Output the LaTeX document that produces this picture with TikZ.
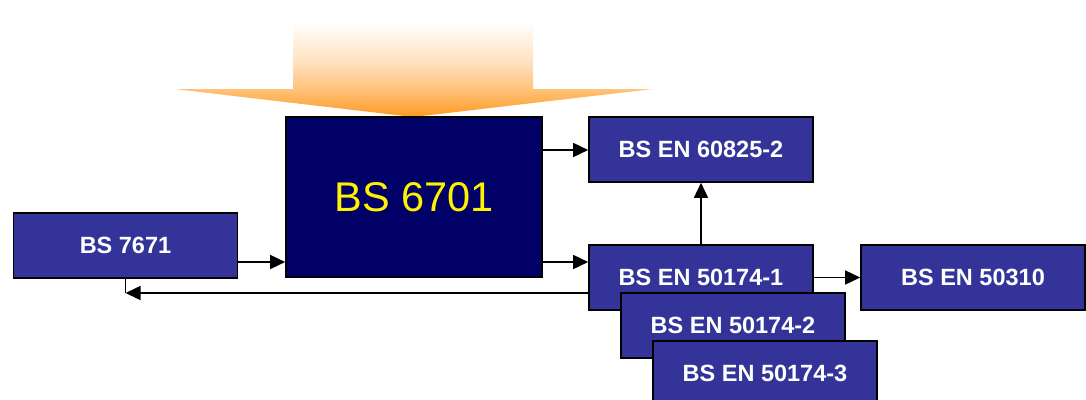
\documentclass[tikz,border=0pt]{standalone}
\usepackage{fontspec}
\setmainfont{Liberation Sans}
\usetikzlibrary{arrows.meta,calc}
\definecolor{boxblue}{HTML}{333399}
\definecolor{navy}{HTML}{000066}
\definecolor{orng}{HTML}{FF9922}
\pgfdeclareverticalshading{orsh}{100bp}{color(0bp)=(orng); color(25bp)=(orng); color(37bp)=(orng!60!white); color(49bp)=(orng!28!white); color(66bp)=(white); color(100bp)=(white)}
\begin{document}
\begin{tikzpicture}[x=1pt,y=-1pt,
  std/.style={draw=black,line width=1.6pt,fill=boxblue,minimum width=224pt,minimum height=65pt,inner sep=0pt,text=white,font=\fontsize{23.5}{26}\selectfont\bfseries},
  big/.style={draw=black,line width=1.6pt,fill=navy,minimum width=256pt,minimum height=160pt,inner sep=0pt,text=yellow,font=\fontsize{41.5}{46}\selectfont},
  conn/.style={line width=1.5pt,-{Triangle[length=15pt,width=14pt]}},
  plain/.style={line width=1.5pt}]
\useasboundingbox (0,0) rectangle (1086,399);
\clip (0,0) rectangle (1086,399);
\fill[white] (0,0) rectangle (1086,399);
% orange arrow
\shade[shading=orsh]
  (293,0) -- (533,0) -- (533,89) -- (653,89) -- (413,117) -- (174,89) -- (293,89) -- cycle;
\node[big] (b6701) at (414,197) {BS 6701};
\node[std] (b7671) at (125.5,245.5) {BS 7671};
\node[std] (b60825) at (701,149.5) {BS EN 60825-2};
\node[std] (b501741) at (701,277.5) {BS EN 50174-1};
\node[std] (b50310) at (973,277.5) {BS EN 50310};
\node[std] (b501742) at (733,325.5) {BS EN 50174-2};
\node[std] (b501743) at (765,373.5) {BS EN 50174-3};
\coordinate (ret) at (125.5,293);
\draw[conn] (b7671.east |- 0,262) -- (b6701.west |- 0,262);
\draw[conn] (b6701.east |- 0,150) -- (b60825.west |- 0,150);
\draw[conn] (b6701.east |- 0,262) -- (b501741.west |- 0,262);
\draw[conn] (b501741.north) -- (b60825.south);
\draw[conn] (b501741.east) -- (b50310.west);
\draw[plain] (b7671.south) -- (ret);
\draw[conn] (b501741.west |- ret) -- (ret);
\end{tikzpicture}
\end{document}
